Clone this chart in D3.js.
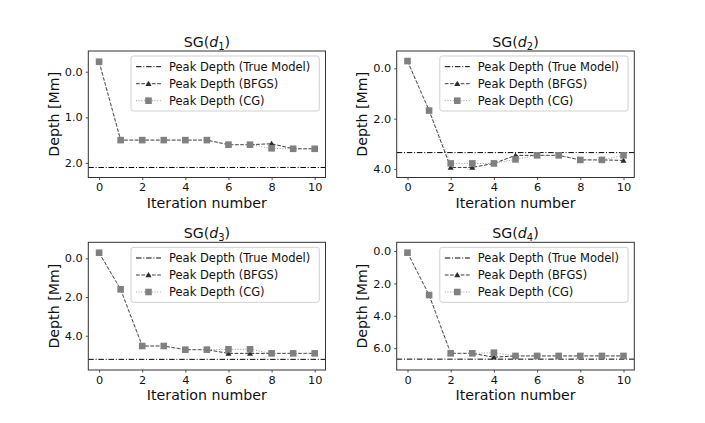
<!DOCTYPE html>
<html><head><meta charset="utf-8">
<script src="https://cdn.jsdelivr.net/npm/d3@7"></script>
<style>body{margin:0;background:#fff}svg{display:block}text{font-family:"DejaVu Sans",sans-serif}</style>
</head><body>
<svg id="c" width="705" height="423"></svg>
<script>
const iterations = [0,1,2,3,4,5,6,7,8,9,10];
const xTicks = [0,2,4,6,8,10];

const bfgs1 = [-0.22,1.5,1.5,1.5,1.5,1.5,1.6,1.6,1.58,1.69,1.69];
const cg1   = [-0.22,1.5,1.5,1.5,1.5,1.5,1.6,1.6,1.68,1.69,1.69];
const true1 = 2.10;
const yTicks1 = [0,1,2];

const bfgs2 = [-0.29,1.68,3.94,3.94,3.78,3.46,3.46,3.46,3.64,3.64,3.66];
const cg2   = [-0.29,1.68,3.78,3.78,3.78,3.62,3.46,3.46,3.64,3.64,3.46];
const true2 = 3.35;
const yTicks2 = [0,2,4];

const bfgs3 = [-0.29,1.60,4.53,4.53,4.72,4.72,4.91,4.91,4.91,4.91,4.91];
const cg3   = [-0.29,1.60,4.53,4.53,4.72,4.72,4.70,4.70,4.91,4.91,4.91];
const true3 = 5.22;
const yTicks3 = [0,2,4];

const bfgs4 = [0.10,2.72,6.32,6.32,6.56,6.48,6.48,6.48,6.48,6.48,6.48];
const cg4   = [0.10,2.72,6.32,6.32,6.28,6.48,6.48,6.48,6.48,6.48,6.48];
const true4 = 6.68;
const yTicks4 = [0,2,4,6];

const legendLabels = ["Peak Depth (True Model)","Peak Depth (BFGS)","Peak Depth (CG)"];

const panels = [
  {sub:"1", bfgs:bfgs1, cg:cg1, tru:true1, ticks:yTicks1, dom:[-0.455,2.32], x0:88.3, x1:325.5, y0:51, y1:177.5},
  {sub:"2", bfgs:bfgs2, cg:cg2, tru:true2, ticks:yTicks2, dom:[-0.69,4.34], x0:396.7, x1:634.3, y0:51, y1:177.5},
  {sub:"3", bfgs:bfgs3, cg:cg3, tru:true3, ticks:yTicks3, dom:[-0.83,5.77], x0:88.3, x1:325.5, y0:242.3, y1:370},
  {sub:"4", bfgs:bfgs4, cg:cg4, tru:true4, ticks:yTicks4, dom:[-0.54,7.35], x0:396.7, x1:634.3, y0:242.3, y1:370}
];

const svg = d3.select("#c");
svg.append("rect").attr("width",705).attr("height",423).attr("fill","#fff");

const C_TRUE="#000", C_BFGS="#3a3a3a", C_BFGS_M="#2b2b2b", C_CG="#9a9a9a", C_CG_M="#808080";
const DASH_TRUE="5.5,1.8,1,1.8", DASH_BFGS="3.7,1.6", DASH_CG="1,1.65";

panels.forEach(p => {
  const g = svg.append("g");
  const x = d3.scaleLinear().domain([-0.5,10.5]).range([p.x0,p.x1]);
  const y = d3.scaleLinear().domain(p.dom).range([p.y0,p.y1]);
  const defsId = "clip"+p.sub;
  svg.append("clipPath").attr("id",defsId).append("rect")
    .attr("x",p.x0).attr("y",p.y0).attr("width",p.x1-p.x0).attr("height",p.y1-p.y0);

  const plot = g.append("g").attr("clip-path",`url(#${defsId})`);
  // true model
  plot.append("line").attr("x1",p.x0).attr("x2",p.x1)
    .attr("y1",y(p.tru)).attr("y2",y(p.tru))
    .attr("stroke",C_TRUE).attr("stroke-width",1).attr("stroke-dasharray",DASH_TRUE);
  const line = d3.line().x((d,i)=>x(iterations[i])).y(d=>y(d));
  // BFGS
  plot.append("path").attr("d",line(p.bfgs)).attr("fill","none")
    .attr("stroke",C_BFGS).attr("stroke-width",1).attr("stroke-dasharray",DASH_BFGS);
  const tri = d3.symbol().type(d3.symbolTriangle).size(16);
  plot.selectAll(".t").data(p.bfgs).join("path")
    .attr("d",tri).attr("transform",(d,i)=>`translate(${x(iterations[i])},${y(d)+0.6})`)
    .attr("fill",C_BFGS_M);
  // CG
  plot.append("path").attr("d",line(p.cg)).attr("fill","none")
    .attr("stroke",C_CG).attr("stroke-width",1).attr("stroke-dasharray",DASH_CG);
  plot.selectAll(".s").data(p.cg).join("rect")
    .attr("x",(d,i)=>x(iterations[i])-3.3).attr("y",d=>y(d)-3.3)
    .attr("width",6.6).attr("height",6.6).attr("fill",C_CG_M);

  // axes
  const ax = g.append("g").attr("transform",`translate(0,${p.y1})`)
    .call(d3.axisBottom(x).tickValues(xTicks).tickSize(2.5).tickPadding(3).tickFormat(d3.format("d")));
  const ay = g.append("g").attr("transform",`translate(${p.x0},0)`)
    .call(d3.axisLeft(y).tickValues(p.ticks).tickSize(2.5).tickPadding(3).tickFormat(d3.format(".1f")));
  [ax,ay].forEach(a=>{
    a.select(".domain").remove();
    a.selectAll(".tick line").attr("stroke","#222").attr("stroke-width",0.8);
    a.selectAll(".tick text").attr("font-size",11.3).attr("fill","#111")
      .attr("font-family","'DejaVu Sans',sans-serif");
  });
  g.append("rect").attr("x",p.x0).attr("y",p.y0).attr("width",p.x1-p.x0).attr("height",p.y1-p.y0)
    .attr("fill","none").attr("stroke","#333").attr("stroke-width",1);

  // title
  const cx = (p.x0+p.x1)/2;
  const t = g.append("text").attr("x",cx).attr("y",p.y0-4.5).attr("text-anchor","middle")
    .attr("font-size",14.2).attr("fill","#111");
  t.append("tspan").text("SG(");
  t.append("tspan").attr("font-style","italic").text("d");
  t.append("tspan").attr("font-size",10).attr("dy",3).text(p.sub);
  t.append("tspan").attr("dy",-3).text(")");

  // axis labels
  g.append("text").attr("x",cx).attr("y",p.y1+30).attr("text-anchor","middle")
    .attr("font-size",14.2).attr("fill","#111").text("Iteration number");
  const ly = (p.y0+p.y1)/2;
  const lx = p.x0-29.8;
  g.append("text").attr("transform",`translate(${lx},${ly}) rotate(-90)`)
    .attr("text-anchor","middle").attr("font-size",14.2).attr("fill","#111").text("Depth [Mm]");

  // legend
  const lw = 188.3, lh = 55;
  const lgx = p.x1-6.2-lw, lgy = p.y0+5;
  const lg = g.append("g");
  lg.append("rect").attr("x",lgx).attr("y",lgy).attr("width",lw).attr("height",lh)
    .attr("rx",2.5).attr("fill","#fff").attr("fill-opacity",0.8).attr("stroke","#d0d0d0").attr("stroke-width",1);
  const styles = [
    {c:C_TRUE, d:DASH_TRUE, m:null},
    {c:C_BFGS, d:DASH_BFGS, m:"tri"},
    {c:C_CG, d:DASH_CG, m:"sq"}
  ];
  legendLabels.forEach((lab,i)=>{
    const yy = lgy + 10.7 + i*17;
    const hx0 = lgx+5, hx1 = lgx+30;
    lg.append("line").attr("x1",hx0).attr("x2",hx1).attr("y1",yy).attr("y2",yy)
      .attr("stroke",styles[i].c).attr("stroke-width",1).attr("stroke-dasharray",styles[i].d);
    const mx = (hx0+hx1)/2;
    if(styles[i].m==="tri"){
      lg.append("path").attr("d",tri).attr("transform",`translate(${mx},${yy+0.6})`).attr("fill",C_BFGS_M);
    } else if(styles[i].m==="sq"){
      lg.append("rect").attr("x",mx-3.3).attr("y",yy-3.3).attr("width",6.6).attr("height",6.6).attr("fill",C_CG_M);
    }
    lg.append("text").attr("x",lgx+38).attr("y",yy+4.1).attr("font-size",11.5).attr("fill","#111").text(lab);
  });
});
</script>
</body></html>
